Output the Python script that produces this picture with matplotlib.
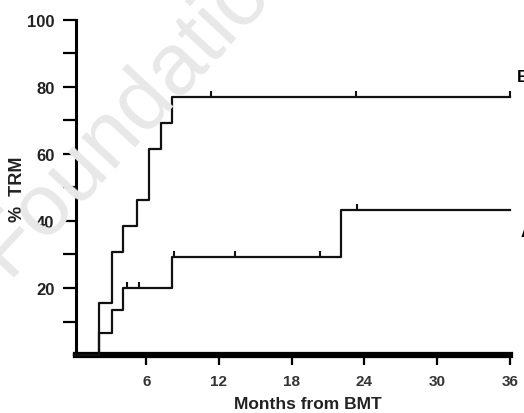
import matplotlib
matplotlib.use("Agg")
import matplotlib.pyplot as plt
import numpy as np

plt.rcParams['font.family'] = ['Liberation Sans', 'DejaVu Sans']

# Kaplan-Meier style step data (months, % TRM)
a_times = [0, 2.1, 3.15, 4.1, 8.1, 22.1, 36]
a_values = [0, 6.7, 13.3, 20.0, 29.2, 43.3, 43.3]
a_censor = [4.4, 5.4, 8.25, 13.3, 20.3, 23.4]

b_times = [0, 2.1, 3.15, 4.1, 5.2, 6.2, 7.2, 8.1, 36]
b_values = [0, 15.4, 30.8, 38.5, 46.2, 61.5, 69.2, 76.9, 76.9]
b_censor = [11.35, 23.3, 36]

x_ticks = [6, 12, 18, 24, 30, 36]
y_major = [20, 40, 60, 80, 100]
y_minor = [10, 30, 50, 70, 90]


def value_at(times, values, t):
    idx = np.searchsorted(times, t, side='right') - 1
    return np.array(values)[idx]


fig = plt.figure(figsize=(5.24, 4.14), dpi=100)
ax = fig.add_axes([0.145, 0.140, 0.828, 0.810])

# watermark
fig.text(0.013, 0.331, 'Foundation', fontsize=63, color='#e8e8e8',
         rotation=47, rotation_mode='anchor', ha='left', va='baseline', zorder=0)
fig.text(-0.020, 0.290, 'Storti', fontsize=63, color='#e8e8e8',
         rotation=47, rotation_mode='anchor', ha='right', va='baseline', zorder=0)
ax.patch.set_alpha(0)

for times, values, cens in [(a_times, a_values, a_censor), (b_times, b_values, b_censor)]:
    ax.step(times, values, where='post', color='#111111', lw=1.6, zorder=3, clip_on=False)
    cy = value_at(times, values, cens)
    ax.plot(cens, cy, linestyle='none', marker=2, markersize=4.5, markeredgewidth=1.5,
            color='#111111', zorder=3, clip_on=False)

ax.text(36.6, 83, 'B', fontsize=12, fontweight='bold', ha='left', va='center', clip_on=False)
ax.text(36.9, 36.7, 'A', fontsize=12, fontweight='bold', ha='left', va='center', clip_on=False)

ax.set_xlim(0.2, 36)
ax.set_ylim(0, 100)

ax.spines['top'].set_visible(False)
ax.spines['right'].set_visible(False)
ax.spines['left'].set_linewidth(2.2)
ax.spines['bottom'].set_linewidth(4.5)

ax.set_xticks(x_ticks)
ax.set_xticklabels([str(t) for t in x_ticks])
ax.set_yticks(y_major)
ax.set_yticklabels([str(t) for t in y_major])
ax.set_yticks(y_minor, minor=True)

ax.tick_params(axis='y', which='both', direction='out', length=9.5, width=1.6, pad=6,
               labelsize=12, labelcolor='#222222')
ax.tick_params(axis='x', which='both', direction='out', length=7, width=1.6, pad=7,
               labelsize=11, labelcolor='#333333')
for lbl in ax.get_xticklabels() + ax.get_yticklabels():
    lbl.set_fontweight('bold')

ax.set_xlabel('Months from BMT', fontsize=12.5, fontweight='bold', color='#222222')
ax.xaxis.set_label_coords(0.535, -0.122)
ax.set_ylabel('%  TRM', fontsize=13, fontweight='bold', color='#222222')
ax.yaxis.set_label_coords(-0.115, 0.498)

fig.savefig('out.png', dpi=100)
